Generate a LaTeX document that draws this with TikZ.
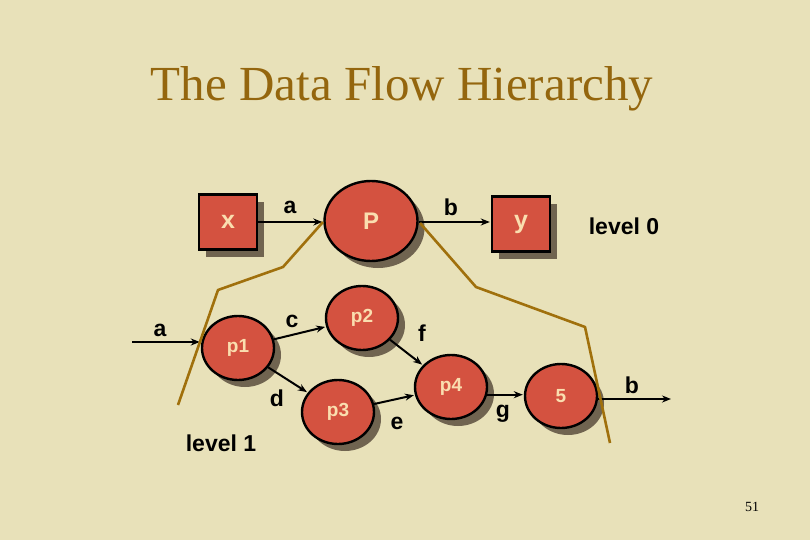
\documentclass[tikz,border=0pt]{standalone}
\usepackage{fontspec}
\setmainfont{Liberation Serif}
\newfontfamily\lsans{Liberation Sans}
\usetikzlibrary{shapes.geometric,shadows,arrows.meta}
\definecolor{bgc}{RGB}{232,225,185}
\definecolor{titlec}{RGB}{148,102,14}
\definecolor{redc}{RGB}{212,82,64}
\definecolor{creamc}{RGB}{250,222,175}
\definecolor{shadc}{RGB}{112,100,80}
\definecolor{brownc}{RGB}{160,112,12}
\tikzset{
  shad/.style={drop shadow={shadow xshift=7pt,shadow yshift=-7pt,fill=shadc,opacity=1}},
  procbig/.style={ellipse,draw=black,line width=2.4pt,fill=redc,shad,inner sep=0pt,
     text=creamc,font=\lsans\bfseries\fontsize{24}{26}\selectfont},
  proc/.style={ellipse,draw=black,line width=2.4pt,fill=redc,shad,inner sep=0pt,
     minimum width=72pt,minimum height=64pt,text=creamc,font=\lsans\bfseries\fontsize{19}{21}\selectfont},
  ext/.style={rectangle,draw=black,line width=2.4pt,fill=redc,shad,inner sep=0pt,
     minimum width=58pt,minimum height=55pt,text=creamc,font=\lsans\bfseries\fontsize{25}{27}\selectfont},
  lbl/.style={text=black,font=\lsans\bfseries\fontsize{23}{25}\selectfont,inner sep=0pt},
  arr/.style={draw=black,line width=2pt,-{Stealth[length=9pt,width=7pt]},shorten >=1pt},
  bline/.style={draw=brownc,line width=2.6pt,line join=round}
}
\begin{document}
\begin{tikzpicture}[x=1pt,y=-1pt]
\fill[bgc] (0,0) rectangle (810,540);
\useasboundingbox (0,0) rectangle (810,540);
\node[text=titlec,font=\fontsize{49}{52}\selectfont,inner sep=0pt] (title) at (402,89) {The Data Flow Hierarchy};
\node[font=\fontsize{14}{16}\selectfont,inner sep=0pt] (pg) at (752,507) {51};
% level 0
\node[ext] (x) at (228,222) {x};
\node[procbig,minimum width=93pt,minimum height=80pt] (P) at (371,221) {P};
\node[ext] (y) at (521,224) {y};
\node[lbl] (lev0) at (624,226) {level 0};
\draw[arr] (x.east) -- (x.east -| P.west);
\draw[arr] (P.east |- x.east) -- (y.west |- x.east);
\node[lbl] (la) at (290,207) {a};
\node[lbl] (lb) at (451,207) {b};
% level 1
\node[proc] (p1) at (238,348) {p1};
\node[proc] (p2) at (362,318) {p2};
\node[proc] (p3) at (338,412) {p3};
\node[proc] (p4) at (451,387) {p4};
\node[proc] (n5) at (561,396) {5};
\coordinate (ain) at (132,342);
\coordinate (bout) at (672,399);
\draw[arr] (ain) -- (ain -| p1.west);
\draw[arr] (p1) -- (p2);
\draw[arr] (p1) -- (p3);
\draw[arr] (p2) -- (p4);
\draw[arr] (p3) -- (p4);
\draw[arr] (p4.-12) -- (n5.west |- p4.-12);
\draw[arr] (n5.east |- bout) -- (bout);
\node[lbl] (l1a) at (160,330) {a};
\node[lbl] (lc) at (292,321) {c};
\node[lbl] (ld) at (277,398) {d};
\node[lbl] (lf) at (422,333) {f};
\node[lbl] (le) at (397,423) {e};
\node[lbl] (lg) at (503,414) {g};
\node[lbl] (lb2) at (632,385) {b};
\node[lbl] (lev1) at (221,443) {level 1};
% boundary lines
\draw[bline] (178,405) -- (218,290) -- (283,267) -- (323,222);
\draw[bline] (420,223) -- (476,287) -- (585,327) -- (610,443);
\end{tikzpicture}
\end{document}
